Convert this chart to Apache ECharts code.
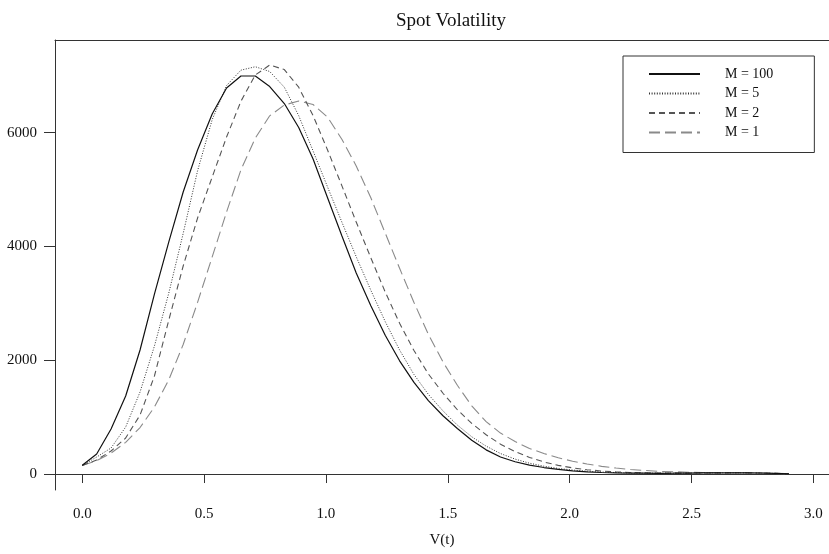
<!DOCTYPE html>
<html>
<head>
<meta charset="utf-8">
<script src="https://cdn.jsdelivr.net/npm/echarts@6/dist/echarts.min.js"></script>
<style>
html,body{margin:0;padding:0;background:#fff;}
#chart{width:829px;height:554px;}
</style>
</head>
<body>
<div id="chart"></div>
<script>
// V(t) grid of the curves (50 points, 0 .. 2.9)
const xValues = [0, 0.059, 0.118, 0.178, 0.237, 0.296, 0.355, 0.414, 0.473, 0.533,
  0.592, 0.651, 0.710, 0.769, 0.829, 0.888, 0.947, 1.006, 1.065, 1.124,
  1.184, 1.243, 1.302, 1.361, 1.420, 1.480, 1.539, 1.598, 1.657, 1.716,
  1.776, 1.835, 1.894, 1.953, 2.012, 2.071, 2.131, 2.190, 2.249, 2.308,
  2.367, 2.427, 2.486, 2.545, 2.604, 2.663, 2.722, 2.782, 2.841, 2.900];

const m100 = [155, 352, 791, 1371, 2180, 3164, 4082, 4958, 5696, 6329,
  6786, 6997, 6997, 6812, 6513, 6091, 5538, 4860, 4190, 3534,
  2960, 2440, 1990, 1610, 1290, 1025, 800, 595, 425, 300,
  215, 155, 114, 80, 55, 38, 27, 19, 15, 14,
  13, 14, 16, 19, 21, 22, 21, 18, 12, 5];

const m5 = [150, 299, 457, 826, 1442, 2250, 3182, 4230, 5330, 6230,
  6830, 7100, 7160, 7076, 6800, 6300, 5680, 5050, 4430, 3820,
  3230, 2680, 2180, 1750, 1400, 1110, 860, 655, 490, 360,
  262, 190, 137, 98, 70, 50, 35, 26, 18, 15,
  14, 15, 17, 19, 21, 22, 21, 17, 11, 5];

const m2 = [150, 246, 404, 633, 1037, 1723, 2707, 3657, 4500, 5221,
  5924, 6553, 7015, 7190, 7110, 6800, 6300, 5700, 5070, 4430,
  3800, 3200, 2650, 2170, 1760, 1420, 1130, 890, 690, 525,
  395, 292, 212, 152, 108, 76, 53, 37, 26, 20,
  16, 15, 16, 18, 20, 21, 21, 18, 12, 5];

const m1 = [150, 237, 367, 557, 817, 1177, 1657, 2277, 3017, 3817,
  4607, 5347, 5907, 6297, 6487, 6557, 6496, 6276, 5886, 5416,
  4856, 4236, 3616, 3016, 2456, 1970, 1560, 1200, 920, 720,
  570, 450, 360, 285, 225, 176, 135, 105, 80, 62,
  47, 39, 32, 26, 23, 21, 21, 18, 12, 5];

const seriesNames = ['M = 100', 'M = 5', 'M = 2', 'M = 1'];
const xTicks = [0, 0.5, 1, 1.5, 2, 2.5, 3];
const yTicks = [0, 2000, 4000, 6000];

const FONT = "'Liberation Serif', 'DejaVu Serif', serif";

function pairs(ys) { return xValues.map((x, i) => [x, ys[i]]); }

const styles = [
  { color: '#111111', width: 1.2, type: 'solid' },
  { color: '#333333', width: 1, type: [1, 1.6] },
  { color: '#555555', width: 1.1, type: [6, 4] },
  { color: '#8a8a8a', width: 1.1, type: [11, 5] }
];
const allData = [m100, m5, m2, m1];

const chart = echarts.init(document.getElementById('chart'), null, { renderer: 'canvas' });
chart.setOption({
  animation: false,
  backgroundColor: '#ffffff',
  title: {
    text: 'Spot Volatility',
    left: 446,
    textAlign: 'center',
    top: 7,
    textStyle: { fontFamily: FONT, fontSize: 19, fontWeight: 'normal', color: '#111' }
  },
  legend: {
    orient: 'vertical',
    left: 623,
    top: 56,
    padding: [11, 41, 13, 25],
    borderColor: '#333',
    borderWidth: 1,
    itemWidth: 51,
    itemHeight: 14,
    itemGap: 5.5,
    itemStyle: { opacity: 0 },
    data: seriesNames,
    textStyle: { fontFamily: FONT, fontSize: 14, color: '#111', padding: [0, 0, 0, 20] }
  },
  grid: { left: 55, right: 0, top: 40, bottom: 64, containLabel: false },
  xAxis: [{
    type: 'value',
    min: -0.112,
    max: 3.064,
    position: 'bottom',
    name: 'V(t)',
    nameLocation: 'middle',
    nameGap: 43,
    nameTextStyle: { fontFamily: FONT, fontSize: 15, color: '#111' },
    axisLine: { show: true, lineStyle: { color: '#333', width: 1 } },
    axisTick: { show: true, length: 9, customValues: xTicks, lineStyle: { color: '#333' } },
    axisLabel: {
      customValues: xTicks,
      margin: 17,
      fontFamily: FONT, fontSize: 15, color: '#111',
      formatter: v => Number(v).toFixed(1)
    },
    splitLine: { show: false }
  }, {
    type: 'value',
    min: -0.112,
    max: 3.064,
    position: 'top',
    axisLine: { show: true, onZero: false, lineStyle: { color: '#333', width: 1 } },
    axisTick: { show: false },
    axisLabel: { show: false },
    splitLine: { show: false }
  }],
  yAxis: {
    type: 'value',
    min: -281,
    max: 7630,
    axisLine: { show: true, onZero: false, lineStyle: { color: '#333', width: 1 } },
    axisTick: { show: true, length: 11, customValues: yTicks, lineStyle: { color: '#333' } },
    axisLabel: {
      customValues: yTicks,
      margin: 18,
      fontFamily: FONT, fontSize: 15, color: '#111',
      formatter: v => String(Math.round(v))
    },
    splitLine: { show: false }
  },
  series: seriesNames.map((name, i) => ({
    name: name,
    type: 'line',
    xAxisIndex: 0,
    data: pairs(allData[i]),
    symbol: 'none',
    showSymbol: false,
    smooth: false,
    color: styles[i].color,
    lineStyle: { color: styles[i].color, width: styles[i].width, type: styles[i].type },
    z: 10 - i
  }))
});
</script>
</body>
</html>
